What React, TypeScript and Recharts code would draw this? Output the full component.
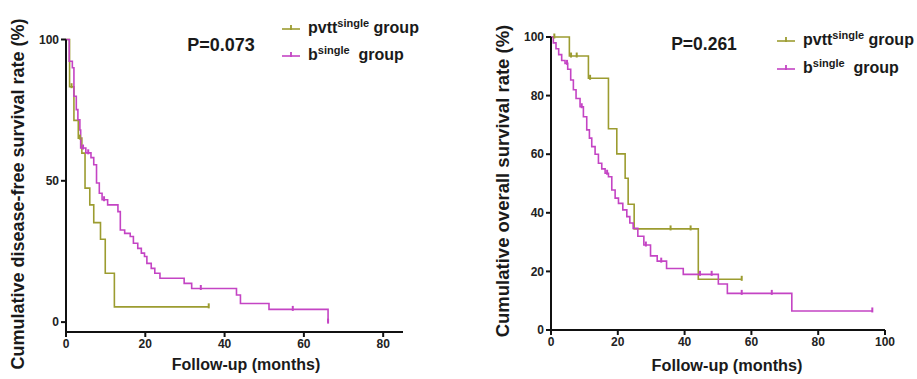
import React from 'react';
import { LineChart, Line, XAxis, YAxis } from 'recharts';

const OLIVE = '#9c9c30';
const MAGENTA = '#c444c4';
const FONT = "'Liberation Sans', Arial, Helvetica, sans-serif";

// ---- Left panel: disease-free survival (months, %) ----
const dfsPvttTime = [0, 0.9, 1.4, 2, 3.1, 3.5, 4, 4.8, 6, 7, 8.7, 9.9, 12.2, 36];
const dfsPvttSurv = [100, 83.3, 83.3, 71.4, 65.1, 65.1, 59.8, 47.4, 41.5, 35.2, 29.3, 17.3, 5.4, 5.4];
const dfsPvttCens = [0, 0, 1, 0, 0, 1, 0, 0, 0, 0, 0, 0, 0, 1];

const dfsBTime = [0, 0.8, 1.6, 2, 2.6, 3, 3.5, 3.7, 4.3, 5, 5.6, 6.3, 7, 7.7, 8.4, 9.1, 9.6, 10.5, 13.1, 13.7, 14.8, 16.2, 17, 18.1, 19, 19.8, 20.4, 21.5, 22.4, 23.7, 29.8, 31.7, 34, 43, 44, 51.2, 57.2, 66.1];
const dfsBSurv = [100, 92.3, 90, 79.9, 75.2, 71.6, 68, 61.6, 61.6, 59.9, 59.9, 58.2, 55.7, 49.2, 45.6, 43.3, 43.3, 41.5, 39.1, 32.6, 31.4, 30.3, 27.9, 26.1, 24.4, 23.2, 20.8, 19, 17.3, 15.5, 13.7, 11.9, 11.9, 9.6, 6.6, 4.5, 4.5, 0];
const dfsBCens = [0, 0, 0, 0, 0, 0, 0, 0, 1, 0, 1, 0, 0, 0, 0, 0, 1, 0, 0, 0, 0, 0, 0, 0, 0, 0, 0, 0, 0, 0, 0, 0, 1, 0, 0, 0, 1, 1];

// ---- Right panel: overall survival (months, %) ----
const osPvttTime = [0, 1, 5.5, 6, 7.7, 11.2, 11.7, 17.2, 19.7, 22.2, 23.1, 24.9, 35.8, 41.8, 44.1, 57.1];
const osPvttSurv = [100, 100, 93.5, 93.5, 93.5, 85.9, 85.9, 68.7, 60.1, 51.8, 42.9, 34.5, 34.5, 34.5, 17.3, 17.3];
const osPvttCens = [0, 1, 0, 1, 1, 0, 1, 0, 0, 0, 0, 0, 1, 1, 0, 1];

const osBTime = [0, 0.7, 1.5, 2.3, 3.2, 4.2, 4.8, 5, 5.9, 6.7, 7.5, 8.7, 9.2, 9.7, 10.7, 11.5, 12.2, 13.2, 14.2, 15.2, 16.2, 16.8, 17.2, 18.2, 19.2, 20.2, 21.5, 22.7, 23.6, 24.6, 26, 27.8, 28.4, 29.8, 31.8, 33, 34.6, 39.6, 44.6, 48.1, 50.1, 52.8, 57.1, 66.1, 72.1, 96.2];
const osBSurv = [100, 98, 96, 94, 92, 91, 91, 89, 85.3, 82, 79, 76.2, 76.2, 72.8, 68.3, 65.5, 62.6, 60, 56.9, 55, 53.5, 53.5, 52.3, 47.8, 45, 43.2, 41, 38.7, 36.5, 34.7, 32, 29, 29, 25.3, 23.5, 23.5, 21, 19, 19, 19, 15.7, 12.5, 12.5, 12.5, 6.5, 6.5];
const osBCens = [0, 0, 0, 0, 0, 0, 1, 0, 0, 0, 0, 0, 1, 0, 0, 0, 0, 0, 0, 0, 0, 1, 0, 0, 0, 0, 0, 0, 0, 0, 0, 0, 1, 0, 0, 1, 0, 0, 1, 1, 0, 0, 1, 1, 0, 1];

const leftXTicks = [0, 20, 40, 60, 80];
const leftYTicks = [0, 50, 100];
const rightXTicks = [0, 20, 40, 60, 80, 100];
const rightYTicks = [0, 20, 40, 60, 80, 100];

type Pt = { t: number; s: number; c: number };
const build = (t: number[], s: number[], c: number[]): Pt[] =>
  t.map((x, i) => ({ t: x, s: s[i], c: c[i] }));

const dfsPvtt = build(dfsPvttTime, dfsPvttSurv, dfsPvttCens);
const dfsB = build(dfsBTime, dfsBSurv, dfsBCens);
const osPvtt = build(osPvttTime, osPvttSurv, osPvttCens);
const osB = build(osBTime, osBSurv, osBCens);

const censorDot = (color: string) => (props: any) => {
  const { cx, cy, payload, index } = props;
  if (!payload || !payload.c) return <g key={`n${index}`} />;
  return (
    <line key={`c${index}`} x1={cx} x2={cx} y1={cy - 3.5} y2={cy + 1.5} stroke={color} strokeWidth={2} />
  );
};

const tickStyle = { fontSize: 12, fontWeight: 700, fill: '#222', fontFamily: FONT };
const axisLine = { stroke: '#111', strokeWidth: 2 };

const Txt: React.FC<{ x: number; y: number; size: number; rotate?: boolean; children: React.ReactNode }> = ({ x, y, size, rotate, children }) => (
  <div
    style={{
      position: 'absolute',
      left: x,
      top: y,
      transform: `translate(-50%, -50%)${rotate ? ' rotate(-90deg)' : ''}`,
      whiteSpace: 'nowrap',
      fontFamily: FONT,
      fontWeight: 700,
      fontSize: size,
      lineHeight: 1,
      color: '#1a1a1a',
    }}
  >
    {children}
  </div>
);

const LegendRow: React.FC<{ x: number; y: number; color: string; name: string; gap: string }> = ({ x, y, color, name, gap }) => (
  <div style={{ position: 'absolute', left: x, top: y - 9, height: 18, display: 'flex', alignItems: 'center', fontFamily: FONT, fontWeight: 700, fontSize: 16, color: '#1a1a1a', whiteSpace: 'nowrap' }}>
    <svg width={18} height={10} style={{ marginRight: 8 }}>
      <line x1={0} x2={18} y1={6} y2={6} stroke={color} strokeWidth={1.6} />
      <line x1={9} x2={9} y1={2} y2={7} stroke={color} strokeWidth={1.8} />
    </svg>
    <span>
      {name}
      <span style={{ fontSize: 11, position: 'relative', top: -6 }}>single</span>
      {gap}group
    </span>
  </div>
);

export default function App() {
  return (
    <div style={{ position: 'absolute', left: 0, top: 0, width: 917, height: 379, background: '#fff', overflow: 'hidden' }}>
      {/* Left panel */}
      <div style={{ position: 'absolute', left: 0, top: 0 }}>
        <LineChart width={460} height={379} margin={{ top: 39.5, right: 57, bottom: 17, left: 26 }}>
          <XAxis
            type="number"
            dataKey="t"
            domain={[0, 85]}
            ticks={leftXTicks}
            axisLine={axisLine}
            tickLine={axisLine}
            tickSize={5}
            tick={tickStyle}
            height={30}
            allowDuplicatedCategory={false}
          />
          <YAxis
            type="number"
            dataKey="s"
            domain={[-3.5, 100]}
            ticks={leftYTicks}
            axisLine={axisLine}
            tickLine={axisLine}
            tickSize={5}
            tickMargin={2}
            tick={tickStyle}
            width={40}
          />
          <Line data={dfsPvtt} dataKey="s" type="stepAfter" stroke={OLIVE} strokeWidth={1.6} dot={censorDot(OLIVE)} activeDot={false} isAnimationActive={false} />
          <Line data={dfsB} dataKey="s" type="stepAfter" stroke={MAGENTA} strokeWidth={1.6} dot={censorDot(MAGENTA)} activeDot={false} isAnimationActive={false} />
        </LineChart>
      </div>

      {/* Right panel */}
      <div style={{ position: 'absolute', left: 460, top: 0 }}>
        <LineChart width={457} height={379} margin={{ top: 37, right: 32, bottom: 19, left: 51 }}>
          <XAxis
            type="number"
            dataKey="t"
            domain={[0, 100]}
            ticks={rightXTicks}
            axisLine={axisLine}
            tickLine={axisLine}
            tickSize={5}
            tick={tickStyle}
            height={30}
            allowDuplicatedCategory={false}
          />
          <YAxis
            type="number"
            dataKey="s"
            domain={[0, 100]}
            ticks={rightYTicks}
            axisLine={axisLine}
            tickLine={axisLine}
            tickSize={5}
            tickMargin={2}
            tick={tickStyle}
            width={40}
          />
          <Line data={osPvtt} dataKey="s" type="stepAfter" stroke={OLIVE} strokeWidth={1.6} dot={censorDot(OLIVE)} activeDot={false} isAnimationActive={false} />
          <Line data={osB} dataKey="s" type="stepAfter" stroke={MAGENTA} strokeWidth={1.6} dot={censorDot(MAGENTA)} activeDot={false} isAnimationActive={false} />
        </LineChart>
      </div>

      {/* Axis titles */}
      <Txt x={18} y={194} size={18} rotate>Cumulative disease-free survival rate (%)</Txt>
      <Txt x={246} y={365} size={16}>Follow-up (months)</Txt>
      <Txt x={503} y={181} size={18.5} rotate>Cumulative overall survival rate (%)</Txt>
      <Txt x={727} y={365} size={16.3}>Follow-up (months)</Txt>

      {/* P values */}
      <Txt x={221} y={45} size={18}>P=0.073</Txt>
      <Txt x={704} y={45} size={17.5}>P=0.261</Txt>

      {/* Legends */}
      <LegendRow x={282} y={28} color={OLIVE} name="pvtt" gap={' '} />
      <LegendRow x={282} y={55} color={MAGENTA} name="b" gap={'\u00a0\u00a0'} />
      <LegendRow x={777} y={40} color={OLIVE} name="pvtt" gap={' '} />
      <LegendRow x={777} y={68} color={MAGENTA} name="b" gap={'\u00a0\u00a0'} />
    </div>
  );
}
